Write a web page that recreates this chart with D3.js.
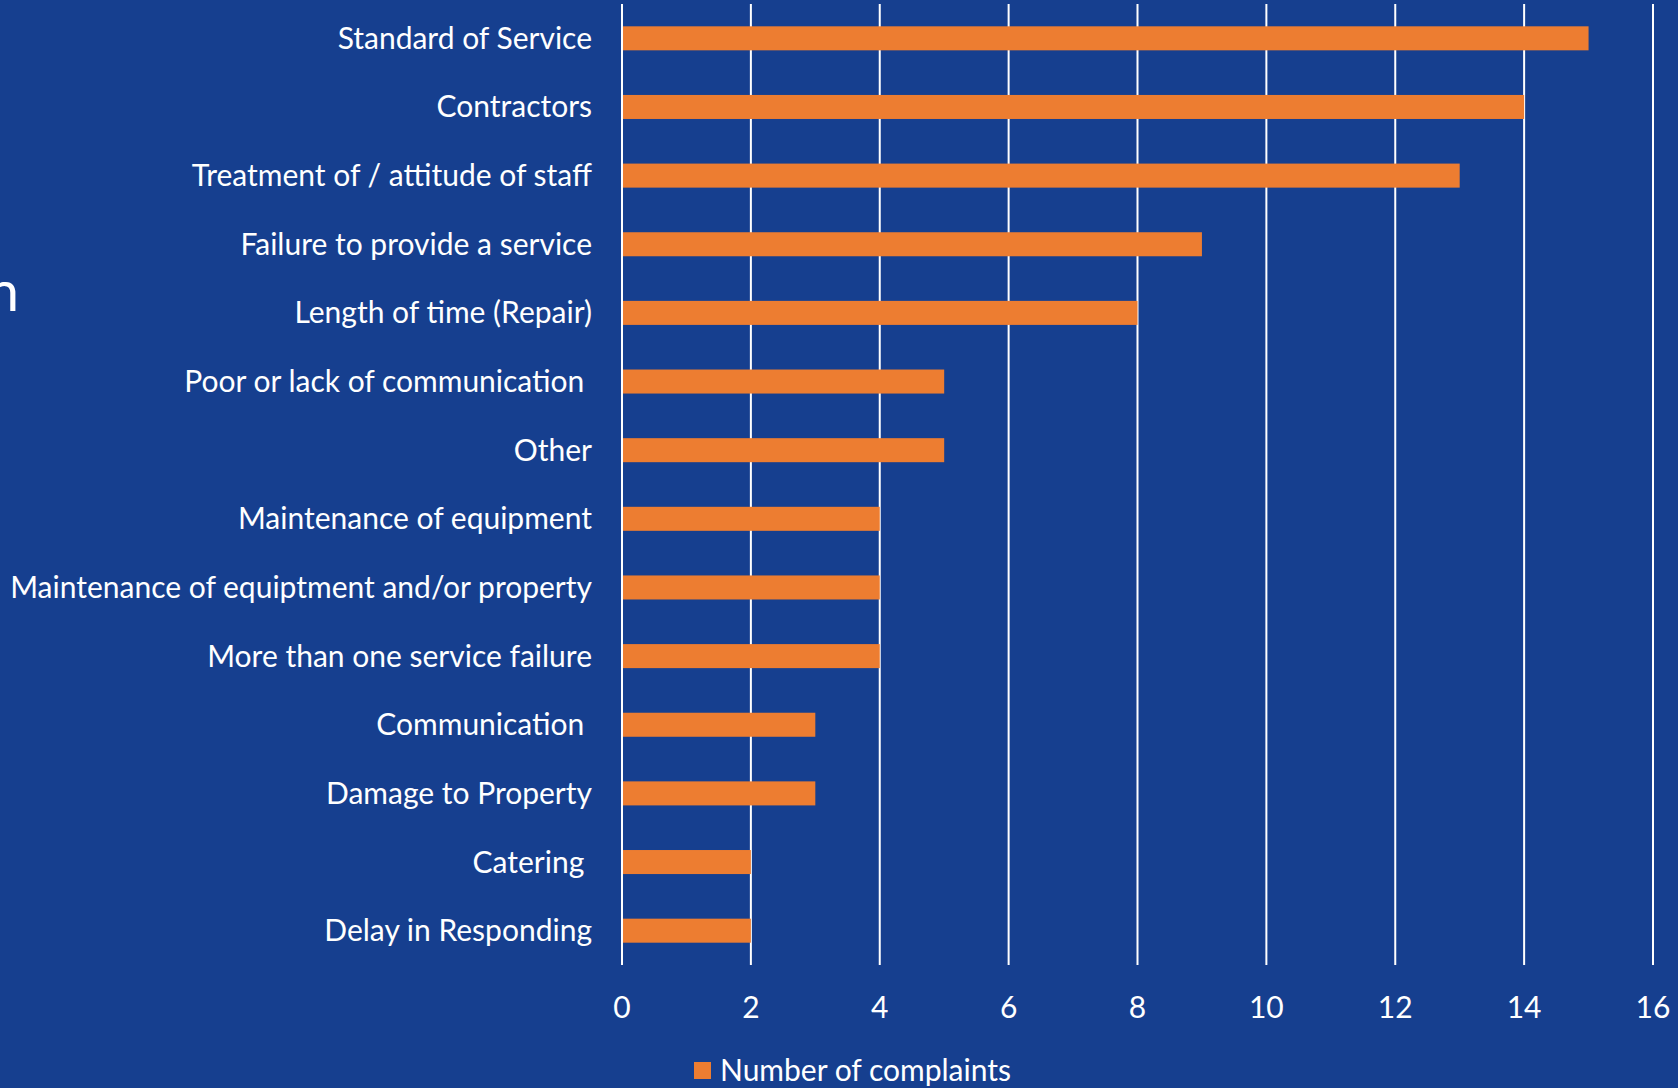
<!DOCTYPE html>
<meta charset="utf-8">
<script src="https://d3js.org/d3.v7.min.js"></script>
<style>
  html, body { margin: 0; padding: 0; background: #163f8f; overflow: hidden; }
  text { font-family: Lato, "Open Sans", sans-serif; fill: #fff; white-space: pre; }
</style>
<div id="chart"></div>
<script>
// complaint categories, top to bottom
var categories = [
  "Standard of Service",
  "Contractors",
  "Treatment of / attitude of staff",
  "Failure to provide a service",
  "Length of time (Repair)",
  "Poor or lack of communication ",
  "Other",
  "Maintenance of equipment",
  "Maintenance of equiptment and/or property",
  "More than one service failure",
  "Communication ",
  "Damage to Property",
  "Catering ",
  "Delay in Responding"
];
var complaints = [15, 14, 13, 9, 8, 5, 5, 4, 4, 4, 3, 3, 2, 2];
var xTicks = [0, 2, 4, 6, 8, 10, 12, 14, 16];
var seriesName = "Number of complaints";

var W = 1678, H = 1088;
var plot = {left: 622, right: 1653, top: 4, bottom: 965};

var svg = d3.select("#chart").append("svg")
  .attr("width", W).attr("height", H);

svg.append("rect").attr("width", W).attr("height", H).attr("fill", "#163f8f");

// cut-off slide title fragment at left edge
svg.append("text")
  .attr("x", 19).attr("y", 311)
  .attr("text-anchor", "end")
  .style("font-size", "56px")
  .text("n");

var x = d3.scaleLinear().domain([0, 16]).range([plot.left, plot.right]);
var y = d3.scaleBand().domain(categories).range([plot.top, plot.bottom])
  .paddingInner(0.65).paddingOuter(0.325);

// gridlines
svg.append("g").selectAll("line")
  .data(xTicks)
  .join("line")
    .attr("x1", function(d) { return x(d); })
    .attr("x2", function(d) { return x(d); })
    .attr("y1", plot.top).attr("y2", plot.bottom)
    .attr("stroke", "#fff")
    .attr("stroke-width", 2);

// bars
svg.append("g").selectAll("rect")
  .data(categories)
  .join("rect")
    .attr("x", x(0) + 1)
    .attr("y", function(d) { return y(d); })
    .attr("width", function(d, i) { return x(complaints[i]) - x(0) - 1; })
    .attr("height", y.bandwidth())
    .attr("fill", "#ed7d31");

// category labels
svg.append("g").selectAll("text")
  .data(categories)
  .join("text")
    .attr("x", 592)
    .attr("y", function(d) { return y(d) + y.bandwidth() / 2; })
    .attr("dy", "0.35em")
    .attr("text-anchor", "end")
    .style("font-size", "30px")
    .text(function(d) { return d; });

// x tick labels
svg.append("g").selectAll("text")
  .data(xTicks)
  .join("text")
    .attr("x", function(d) { return x(d); })
    .attr("y", 1007)
    .attr("dy", "0.35em")
    .attr("text-anchor", "middle")
    .style("font-size", "30px")
    .text(function(d) { return d; });

// legend
svg.append("rect")
  .attr("x", 694).attr("y", 1062)
  .attr("width", 17).attr("height", 17)
  .attr("fill", "#ed7d31");
svg.append("text")
  .attr("x", 720).attr("y", 1070)
  .attr("dy", "0.35em")
  .style("font-size", "30px")
  .text(seriesName);
</script>
